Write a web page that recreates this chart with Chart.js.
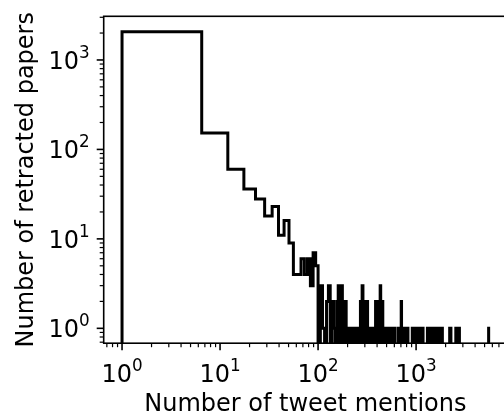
<!DOCTYPE html>
<html>
<head>
<meta charset="utf-8">
<script src="https://cdn.jsdelivr.net/npm/chart.js@4"></script>
<style>
  html, body { margin: 0; padding: 0; overflow: hidden; background: #fff; }
  #wrap { position: relative; width: 512px; height: 417px; }
</style>
</head>
<body>
<div id="wrap"><canvas id="chart"></canvas></div>
<script>
// step histogram, 1000 equal-width bins starting at 1 mention, on log-log axes
const binStart = 1;
const binWidth = 5.5;

// counts of the first 36 bins (0 = empty)
const headCounts = [2070, 153, 60, 36, 28, 18, 23, 11, 16, 9, 4, 4, 6, 4, 6, 3, 7, 5,
  0, 3, 1, 0, 2, 3, 0, 2, 1, 0, 2, 3, 0, 3, 2, 0, 2, 1];

// sparse tail: bin index of each non-empty bin and its count
const tailBins = [37, 39, 41, 43, 45, 47,
  49, 51, 53, 55, 57,
  60, 62, 64, 66, 68,
  70, 72, 74, 76, 78, 80, 82,
  85, 88, 91, 94, 97, 100, 103, 106, 109,
  119, 122, 125, 128, 131, 134, 137, 141, 145, 149,
  166, 170, 175,
  187, 194, 201, 208, 213,
  237, 249, 262, 276, 290, 305, 320, 336,
  400, 411,
  462, 482, 502,
  999];
const tailCounts = [1, 1, 1, 1, 1, 1,
  2, 3, 2, 2, 2,
  1, 1, 1, 1, 1,
  2, 2, 2, 2, 3, 2, 2,
  1, 1, 1, 1, 1, 1, 1, 1, 1,
  1, 1, 1, 2, 1, 1, 1, 1, 1, 1,
  1, 1, 1,
  1, 1, 1, 1, 1,
  1, 1, 1, 1, 1, 1, 1, 1,
  1, 1,
  1, 1, 1,
  1];

const xTickExps = [0, 1, 2, 3];
const yTickExps = [0, 1, 2, 3];

// empty bins drop below the axis (log of zero), like matplotlib clips them
const BELOW = 1e-3;
const edge = k => binStart + k * binWidth;

const bins = [];
headCounts.forEach((c, k) => { if (c > 0) bins.push([k, c]); });
tailBins.forEach((k, i) => bins.push([k, tailCounts[i]]));

const points = [{x: edge(0), y: BELOW}];
bins.forEach(([k, c], i) => {
  points.push({x: edge(k), y: c});
  const next = bins[i + 1];
  if (!next || next[0] !== k + 1) points.push({x: edge(k + 1), y: BELOW});
});

const FONT = 'DejaVu Sans';

const mplAxes = {
  id: 'mplAxes',
  afterDraw(chart) {
    const {ctx, chartArea: a, scales: {x, y}} = chart;
    ctx.save();
    ctx.strokeStyle = '#000';
    ctx.fillStyle = '#000';
    const seg = (x0, y0, x1, y1, w) => {
      ctx.lineWidth = w;
      ctx.beginPath(); ctx.moveTo(x0, y0); ctx.lineTo(x1, y1); ctx.stroke();
    };
    // tick marks: majors at decades, minors at 2..9
    for (let e = -1; e <= 4; e++) {
      for (let m = 1; m <= 9; m++) {
        const v = m * Math.pow(10, e);
        const major = m === 1;
        if (v >= x.min && v <= x.max) {
          const px = x.getPixelForValue(v);
          seg(px, a.bottom, px, a.bottom + (major ? 7 : 4), major ? 1.6 : 1.2);
        }
        if (v >= y.min && v <= y.max) {
          const py = y.getPixelForValue(v);
          seg(a.left, py, a.left - (major ? 7 : 4), py, major ? 1.6 : 1.2);
        }
      }
    }
    ctx.lineWidth = 1.6;
    ctx.strokeRect(a.left, a.top, a.right - a.left, a.bottom - a.top);

    // tick labels as 10 with a raised exponent
    const big = '24px "' + FONT + '"', small = '16.8px "' + FONT + '"';
    const label = (exp, xStart, base) => {
      ctx.font = big;
      ctx.textBaseline = 'alphabetic';
      ctx.textAlign = 'left';
      ctx.fillText('10', xStart, base);
      const w = ctx.measureText('10').width;
      ctx.font = small;
      ctx.fillText(String(exp), xStart + w, base - 10.8);
    };
    const width = exp => {
      ctx.font = big; const w1 = ctx.measureText('10').width;
      ctx.font = small; return w1 + ctx.measureText(String(exp)).width;
    };
    xTickExps.forEach(e => {
      const px = x.getPixelForValue(Math.pow(10, e));
      label(e, px - width(e) / 2, a.bottom + 38.5);
    });
    yTickExps.forEach(e => {
      const py = y.getPixelForValue(Math.pow(10, e));
      label(e, a.left - 14 - width(e), py + 8.7);
    });
    ctx.restore();
  }
};

new Chart(document.getElementById('chart'), {
  type: 'line',
  data: {
    datasets: [{
      data: points,
      borderColor: '#000',
      borderWidth: 3,
      borderJoinStyle: 'miter',
      borderCapStyle: 'butt',
      pointRadius: 0,
      fill: false,
      stepped: 'before',
      clip: 0
    }]
  },
  options: {
    animation: false,
    responsive: true,
    maintainAspectRatio: false,
    layout: { padding: { top: 16.3, right: 5, bottom: 0, left: 0 } },
    plugins: { legend: { display: false }, tooltip: { enabled: false } },
    scales: {
      x: {
        type: 'logarithmic',
        min: 0.65,
        max: 8463,
        grid: { display: false, drawTicks: false },
        border: { display: false },
        ticks: { display: false },
        title: {
          display: true,
          text: 'Number of tweet mentions',
          color: '#000',
          font: { family: FONT, size: 24, lineHeight: 1 },
          padding: { top: 49.8, bottom: 0 }
        }
      },
      y: {
        type: 'logarithmic',
        min: 0.682,
        max: 3077,
        grid: { display: false, drawTicks: false },
        border: { display: false },
        ticks: { display: false },
        title: {
          display: true,
          text: 'Number of retracted papers',
          color: '#000',
          font: { family: FONT, size: 24, lineHeight: 1 },
          padding: { top: 14.7, bottom: 65 }
        }
      }
    }
  },
  plugins: [mplAxes]
});
</script>
</body>
</html>
